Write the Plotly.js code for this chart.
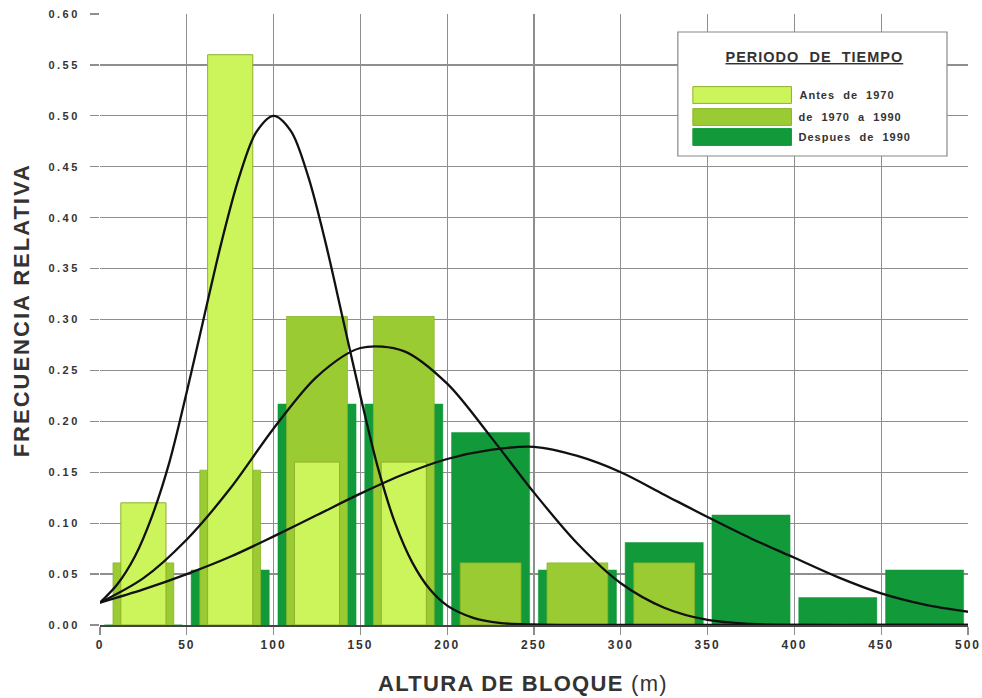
<!DOCTYPE html>
<html>
<head>
<meta charset="utf-8">
<script src="https://cdn.plot.ly/plotly-3.0.1.min.js"></script>
<style>
html,body{margin:0;padding:0;background:#fff;}
#chart{width:982px;height:698px;}
#chart .ytick text{letter-spacing:2.5px;}
#chart .xtick text{letter-spacing:2px;}
#chart .annotation-text{letter-spacing:1px;}
#chart .annotation[data-index="0"] .annotation-text{letter-spacing:1.3px;}
#chart .annotation[data-index="1"] .annotation-text{letter-spacing:2px;}
</style>
</head>
<body>
<div id="chart"></div>
<script>
// Bin centres (m) and relative frequencies per period
const binCenters = [25, 75, 125, 175, 225, 275, 325, 375, 425, 475];
const antes1970 = [0.12, 0.56, 0.16, 0.16, 0, 0, 0, 0, 0, 0];
const de1970a1990 = [0.061, 0.152, 0.303, 0.303, 0.061, 0.061, 0.061, 0, 0, 0];
const despues1990 = [0, 0.054, 0.217, 0.217, 0.189, 0.054, 0.081, 0.108, 0.027, 0.054];

// Fitted curves
const curveAx = [0, 10, 20, 30, 40, 50, 60, 70, 80, 90, 100, 110, 120, 130, 140, 150, 160, 170, 180, 190, 200, 215, 230, 250, 275, 300, 400, 500];
const curveAy = [0.022, 0.040, 0.067, 0.107, 0.160, 0.229, 0.303, 0.376, 0.439, 0.484, 0.500, 0.485, 0.440, 0.375, 0.300, 0.225, 0.155, 0.100, 0.061, 0.035, 0.019, 0.007, 0.002, 0.0005, 0, 0, 0, 0];
const curveBx = [0, 25, 50, 75, 100, 125, 150, 175, 200, 225, 250, 275, 300, 325, 350, 375, 400, 450, 500];
const curveBy = [0.022, 0.046, 0.084, 0.134, 0.193, 0.244, 0.272, 0.269, 0.237, 0.185, 0.130, 0.080, 0.041, 0.017, 0.005, 0.001, 0, 0, 0];
const curveCx = [0, 25, 50, 75, 100, 125, 150, 175, 200, 225, 250, 275, 300, 325, 350, 375, 400, 425, 450, 475, 500];
const curveCy = [0.022, 0.035, 0.050, 0.067, 0.087, 0.108, 0.129, 0.148, 0.163, 0.172, 0.175, 0.166, 0.150, 0.128, 0.106, 0.085, 0.066, 0.047, 0.031, 0.020, 0.013];

const seriesNames = ['Antes  de  1970', 'de  1970  a  1990', 'Despues  de  1990'];
const seriesColors = ['#ccf55c', '#9acb33', '#12993a'];
const edgeColors = ['#8fb02c', '#86b52a', '#12993a'];
const barWidths = [26, 35, 45];

const xTicks = [0, 50, 100, 150, 200, 250, 300, 350, 400, 450, 500];
const yTicks = [0, 0.05, 0.10, 0.15, 0.20, 0.25, 0.30, 0.35, 0.40, 0.45, 0.50, 0.55, 0.60];

const xTitle = '<b>ALTURA DE BLOQUE</b> (m)';
const yTitle = '<b>FRECUENCIA RELATIVA</b>';
const legendTitle = '<u><b>PERIODO&nbsp;&nbsp;DE&nbsp;&nbsp;TIEMPO</b></u>';

const FONT = 'Arial, "Liberation Sans", sans-serif';
const GRID = '#8e8e8e';

const data = [
  {type: 'bar', x: binCenters, y: despues1990, width: barWidths[2], name: seriesNames[2],
   marker: {color: seriesColors[2], line: {color: edgeColors[2], width: 0.5}}, hoverinfo: 'x+y'},
  {type: 'bar', x: binCenters, y: de1970a1990, width: barWidths[1], name: seriesNames[1],
   marker: {color: seriesColors[1], line: {color: edgeColors[1], width: 0.8}}, hoverinfo: 'x+y'},
  {type: 'bar', x: binCenters, y: antes1970, width: barWidths[0], name: seriesNames[0],
   marker: {color: seriesColors[0], line: {color: edgeColors[0], width: 1}}, hoverinfo: 'x+y'},
  {type: 'scatter', mode: 'lines', x: curveAx, y: curveAy, line: {color: '#111', width: 2.3, shape: 'spline', smoothing: 0.9}, hoverinfo: 'skip'},
  {type: 'scatter', mode: 'lines', x: curveBx, y: curveBy, line: {color: '#111', width: 2.3, shape: 'spline', smoothing: 0.9}, hoverinfo: 'skip'},
  {type: 'scatter', mode: 'lines', x: curveCx, y: curveCy, line: {color: '#111', width: 2.3, shape: 'spline', smoothing: 0.9}, hoverinfo: 'skip'}
];

// Axis titles as annotations (index 0 and 1), legend drawn as paper shapes + annotations
const annotations = [
  {xref: 'paper', yref: 'paper', x: 0.487, y: -0.095, text: xTitle, showarrow: false,
   font: {family: FONT, size: 22, color: '#333'}, xanchor: 'center', yanchor: 'middle'},
  {xref: 'paper', yref: 'paper', x: -0.091, y: 0.515, text: yTitle, showarrow: false, textangle: -90,
   font: {family: FONT, size: 22, color: '#333'}, xanchor: 'center', yanchor: 'middle'},
  {xref: 'paper', yref: 'paper', x: 0.8236, y: 0.9296, text: legendTitle, showarrow: false,
   font: {family: FONT, size: 14.5, color: '#333'}, xanchor: 'center', yanchor: 'middle'}
];
const lgX0 = 0.6657, lgX1 = 0.9758, lgY0 = 0.7676, lgY1 = 0.9705;
const swX0 = 0.683, swX1 = 0.7966, swH = 0.0275;
const rowY = [0.8674, 0.8314, 0.7987];
const shapes = [
  {type: 'rect', xref: 'paper', yref: 'paper', x0: lgX0, x1: lgX1, y0: lgY0, y1: lgY1,
   fillcolor: '#ffffff', line: {color: '#888', width: 1.2}, layer: 'above'}
];
for (let i = 0; i < 3; i++) {
  shapes.push({type: 'rect', xref: 'paper', yref: 'paper', x0: swX0, x1: swX1, y0: rowY[i] - swH / 2, y1: rowY[i] + swH / 2,
    fillcolor: seriesColors[i], line: {color: edgeColors[i], width: 1}, layer: 'above'});
  annotations.push({xref: 'paper', yref: 'paper', x: 0.8125, y: rowY[i], text: '<b>' + seriesNames[i].replace(/ /g, '&nbsp;') + '</b>',
    showarrow: false, font: {family: FONT, size: 11, color: '#333'}, xanchor: 'left', yanchor: 'middle'});
}

const layout = {
  width: 982, height: 698,
  margin: {l: 100, r: 14, t: 14, b: 73},
  paper_bgcolor: '#ffffff', plot_bgcolor: '#ffffff',
  barmode: 'overlay', showlegend: false,
  font: {family: FONT},
  xaxis: {
    range: [0, 500], tickvals: xTicks, ticktext: xTicks.map(String),
    showgrid: true, gridcolor: GRID, gridwidth: 1.2,
    ticks: 'outside', ticklen: 8, tickcolor: GRID, tickwidth: 1.2,
    tickfont: {family: FONT, size: 12, color: '#333', weight: 'bold'},
    showline: true, linecolor: '#444', linewidth: 1.6, zeroline: false
  },
  yaxis: {
    range: [0, 0.6], tickvals: yTicks, ticktext: yTicks.map(v => v.toFixed(2)),
    showgrid: true, gridcolor: GRID, gridwidth: 1.2,
    ticks: 'outside', ticklen: 9, tickcolor: GRID, tickwidth: 1.2,
    ticklabelstandoff: 8,
    tickfont: {family: FONT, size: 11, color: '#333', weight: 'bold'},
    showline: false, zeroline: false
  },
  shapes: shapes,
  annotations: annotations
};

Plotly.newPlot('chart', data, layout, {displayModeBar: false, staticPlot: true});
</script>
</body>
</html>
